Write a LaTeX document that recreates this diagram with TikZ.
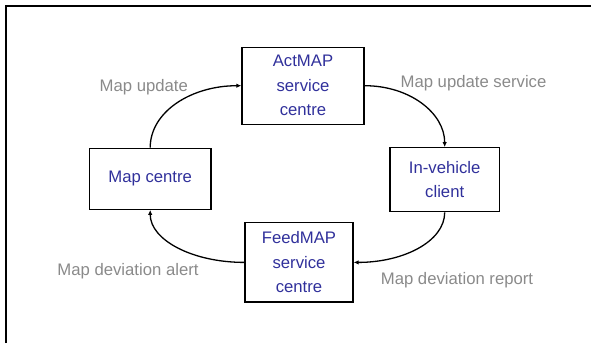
\documentclass[tikz,border=0pt]{standalone}
\usepackage{fontspec}
\setmainfont{Liberation Sans}
\usetikzlibrary{arrows.meta}
\definecolor{boxtext}{RGB}{48,48,155}
\definecolor{labeltext}{RGB}{138,138,138}
\begin{document}
\begin{tikzpicture}[x=1pt,y=-1pt,
  box/.style={draw=black,line width=1.3pt,inner sep=0pt,align=center,
    text=boxtext,font=\fontsize{16.7}{24.5}\selectfont},
  lbl/.style={inner sep=0pt,anchor=base,text=labeltext,font=\fontsize{16.7}{20}\selectfont},
  flow/.style={line width=1.3pt,-{Latex[length=5pt,width=4.5pt]}}]
\useasboundingbox (0,0) rectangle (591,343);
\draw[line width=1.3pt] (6,343) -- (6,6) -- (591,6);
\node[box,minimum width=122pt,minimum height=77pt] (act) at (303,85.7) {ActMAP\\service\\centre};
\node[box,minimum width=121.7pt,minimum height=61pt] (mc) at (150.2,178.8) {Map centre};
\node[box,minimum width=109.4pt,minimum height=64pt] (iv) at (444.7,179.7) {In-vehicle\\client};
\node[box,minimum width=108pt,minimum height=79.3pt] (fm) at (299,262.4) {FeedMAP\\service\\centre};
\node[lbl] (l1) at (143.8,91.3) {Map update};
\node[lbl] (l2) at (473.5,87.5) {Map update service};
\node[lbl] (l3) at (128,275) {Map deviation alert};
\node[lbl] (l4) at (457,284.5) {Map deviation report};
\draw[flow] (mc.north) .. controls +(0,-36) and +(-50,0) .. (act.west);
\draw[flow] (act.east) .. controls +(45,0) and +(0,-34) .. (iv.north);
\draw[flow] (iv.south) .. controls +(0,29) and +(50,0) .. (fm.east);
\draw[flow] (fm.west) .. controls +(-52,0) and +(0,30) .. (mc.south);
\end{tikzpicture}
\end{document}
